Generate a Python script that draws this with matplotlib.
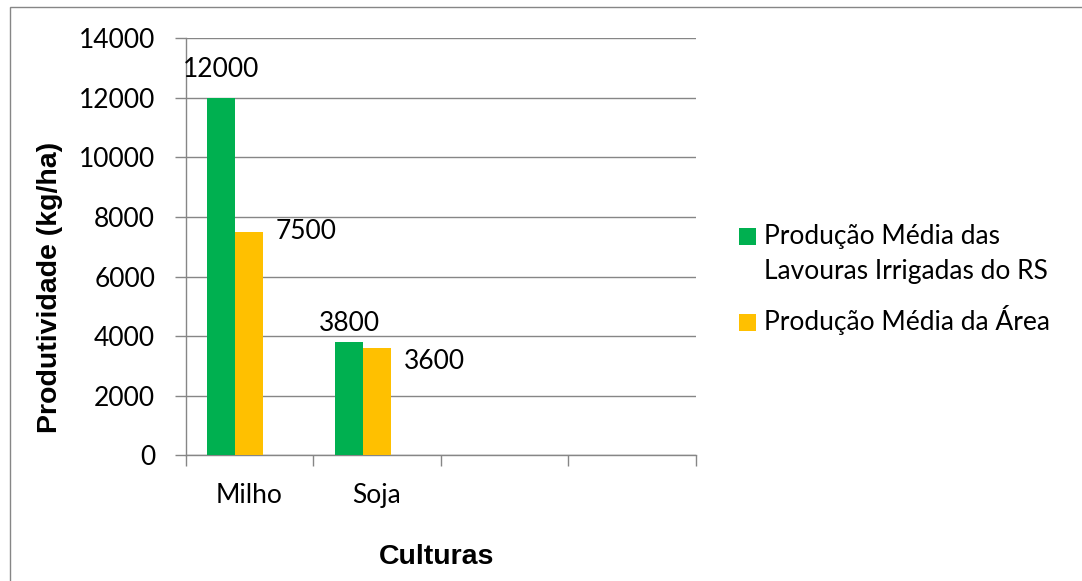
import matplotlib.pyplot as plt
from matplotlib.patches import Rectangle
import numpy as np

# Productivity (kg/ha) by crop, two series
culturas = ['Milho', 'Soja', '', '']
series_names = ['Produção Média das\nLavouras Irrigadas do RS', 'Produção Média da Área']
irrigadas_rs = [12000, 3800]
media_area = [7500, 3600]
cores = ['#00B050', '#FFC000']
yticks = [0, 2000, 4000, 6000, 8000, 10000, 12000, 14000]

# label offsets (pixels) relative to the top-center of each bar
label_offsets = [[(0, 28, 'center'), (0, 19, 'center')],
                 [(26, 0, 'left'), (27, -13, 'left')]]

W, H = 1082, 581
fig = plt.figure(figsize=(W / 100, H / 100), dpi=100)
ax = fig.add_axes([185.7 / W, 1 - 455.3 / H, 510 / W, 417 / H])

grey = '#868686'
tick_font = 'Lato'
fs = 19

# three slots per category (third one empty), bar width ~0.22 of a category
w = 0.2194
centers = np.arange(len(irrigadas_rs)) + 0.5
for k, vals in enumerate([irrigadas_rs, media_area]):
    xs = centers + (k - 1) * w
    ax.bar(xs, vals, width=w, color=cores[k], zorder=3)
    for x, v, (dx, dy, ha) in zip(xs, vals, label_offsets[k]):
        ax.annotate(str(v), xy=(x, v), xytext=(dx, dy), textcoords='offset pixels',
                    ha=ha, va='center', fontsize=fs, family=tick_font, zorder=4)

ax.set_xlim(0, len(culturas))
ax.set_ylim(0, 14000)
ax.set_yticks(yticks)
ax.set_yticklabels([str(t) for t in yticks], family=tick_font, fontsize=fs)
ax.yaxis.grid(True, color=grey, linewidth=1.0, zorder=0)
ax.set_axisbelow(True)

# category boundaries as tick marks, names centred between them
ax.set_xticks(np.arange(len(culturas) + 1))
ax.set_xticklabels([])
ax.set_xticks(np.arange(len(culturas)) + 0.5, minor=True)
ax.set_xticklabels(culturas, minor=True, family=tick_font, fontsize=fs)
ax.tick_params(axis='x', which='minor', length=0, pad=20)
ax.tick_params(axis='x', which='major', length=8, width=1.0, color=grey, direction='out')
ax.tick_params(axis='y', length=8, width=1.0, color=grey, pad=14)

for s in ['top', 'right']:
    ax.spines[s].set_visible(False)
for s in ['left', 'bottom']:
    ax.spines[s].set_color(grey)
    ax.spines[s].set_linewidth(1.0)

ax.set_ylabel('Produtividade (kg/ha)', family='Liberation Sans', fontweight='bold',
              fontsize=20.5, ha='center', va='center')
ax.yaxis.set_label_coords((50 - 185.7) / 510, (455.3 - 287) / 417)
ax.set_xlabel('Culturas', family='Liberation Sans', fontweight='bold',
              fontsize=20.5, ha='center', va='center')
ax.xaxis.set_label_coords((436.5 - 185.7) / 510, (455.3 - 557) / 417)

# legend drawn by hand to the right of the plot; squares sit beside the first line
legend_rows = [236.5, 322.5]
line_step = 35
for name, cor, yc in zip(series_names, cores, legend_rows):
    fig.add_artist(Rectangle((739 / W, 1 - (yc + 8.5) / H), 17 / W, 17 / H,
                             transform=fig.transFigure, facecolor=cor, edgecolor='none'))
    for i, line in enumerate(name.split('\n')):
        fig.text(764 / W, 1 - (yc + 7.8 + i * line_step) / H, line, family=tick_font,
                 fontsize=fs, ha='left', va='baseline')

# outer chart border (runs off the right and bottom edges)
fig.add_artist(Rectangle((10 / W, -0.1), 1.2, 1.1 - 7 / H, transform=fig.transFigure,
                         facecolor='none', edgecolor=grey, linewidth=1.0, clip_on=False))

fig.savefig('out.png', dpi=100)
